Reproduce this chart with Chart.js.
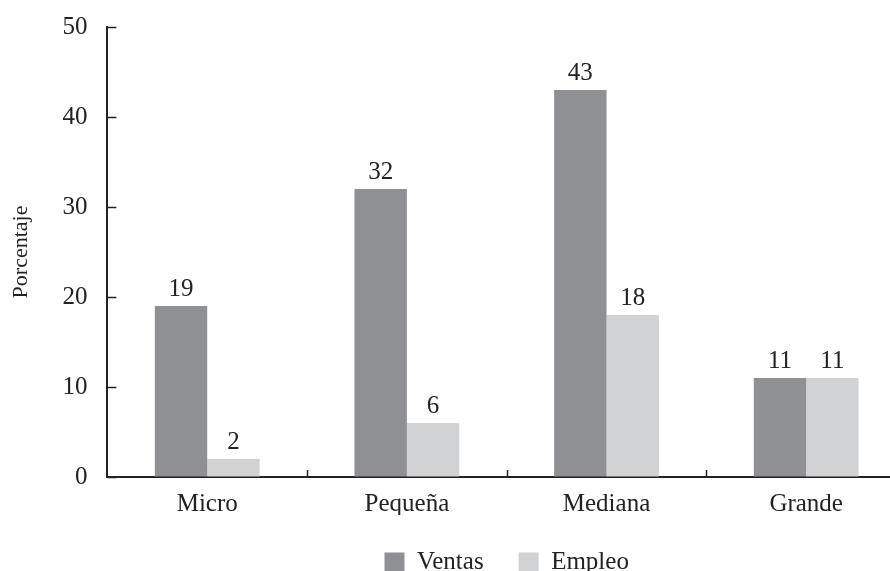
<!DOCTYPE html>
<html>
<head>
<meta charset="utf-8">
<script src="https://cdn.jsdelivr.net/npm/chart.js@4/dist/chart.umd.min.js"></script>
<style>
  html, body { margin: 0; padding: 0; background: #fff; overflow: hidden; }
  #wrap { position: relative; width: 906px; height: 585px; }
</style>
</head>
<body>
<div id="wrap"><canvas id="chart"></canvas></div>
<script>
const categories = ['Micro', 'Pequeña', 'Mediana', 'Grande'];
const ventas = [19, 32, 43, 11];
const empleo = [2, 6, 18, 11];
const yTicks = [0, 10, 20, 30, 40, 50];

const serif = "'Liberation Serif', 'Times New Roman', serif";
const ink = '#222';

// inward tick marks on both axes
const innerTicks = {
  id: 'innerTicks',
  afterDraw(chart) {
    const { ctx, scales: { x, y } } = chart;
    ctx.save();
    ctx.strokeStyle = ink;
    ctx.lineWidth = 1.5;
    yTicks.forEach((v) => {
      const py = Math.round(y.getPixelForValue(v)) + 0.5;
      ctx.beginPath();
      ctx.moveTo(x.left, py);
      ctx.lineTo(x.left + 9, py);
      ctx.stroke();
    });
    const w = (x.right - x.left) / categories.length;
    for (let k = 1; k <= categories.length; k++) {
      const px = Math.round(x.left + k * w) + 0.5;
      ctx.beginPath();
      ctx.moveTo(px, y.bottom);
      ctx.lineTo(px, y.bottom - 7);
      ctx.stroke();
    }
    ctx.restore();
  },
};

// value labels above the bars
const valueLabels = {
  id: 'valueLabels',
  afterDatasetsDraw(chart) {
    const { ctx } = chart;
    ctx.save();
    ctx.font = '25px ' + serif;
    ctx.fillStyle = ink;
    ctx.textAlign = 'center';
    ctx.textBaseline = 'bottom';
    chart.data.datasets.forEach((ds, i) => {
      chart.getDatasetMeta(i).data.forEach((bar, j) => {
        ctx.fillText(String(ds.data[j]), bar.x, bar.y - 4);
      });
    });
    ctx.restore();
  },
};

new Chart(document.getElementById('chart'), {
  type: 'bar',
  data: {
    labels: categories,
    datasets: [
      {
        label: 'Ventas',
        data: ventas,
        backgroundColor: '#8f9094',
        borderWidth: 0,
      },
      {
        label: 'Empleo',
        data: empleo,
        backgroundColor: '#d1d2d4',
        borderWidth: 0,
      },
    ],
  },
  options: {
    responsive: true,
    maintainAspectRatio: false,
    animation: false,
    events: [],
    layout: {
      padding: { left: 8, top: 27, right: 0, bottom: 0 },
    },
    datasets: {
      bar: {
        categoryPercentage: 0.525,
        barPercentage: 1,
      },
    },
    plugins: {
      tooltip: { enabled: false },
      legend: {
        position: 'bottom',
        fullSize: false,
        labels: {
          boxWidth: 20,
          boxHeight: 20,
          padding: 35,
          color: ink,
          font: { family: serif, size: 25 },
        },
      },
    },
    scales: {
      x: {
        grid: { display: true, drawOnChartArea: false, drawTicks: false },
        border: { display: true, color: ink, width: 2 },
        ticks: {
          color: ink,
          padding: 12,
          font: { family: serif, size: 25 },
        },
        afterFit(scale) {
          scale.height -= 16;
        },
      },
      y: {
        min: 0,
        max: 50,
        grid: { display: true, drawOnChartArea: false, drawTicks: false },
        border: { display: true, color: ink, width: 2 },
        ticks: {
          stepSize: 10,
          color: ink,
          padding: 20,
          font: { family: serif, size: 25 },
        },
        title: {
          display: true,
          text: 'Porcentaje',
          color: ink,
          padding: { top: 0, bottom: 8 },
          font: { family: serif, size: 22 },
        },
        afterFit(scale) {
          scale.paddingTop = 0;
        },
      },
    },
  },
  plugins: [innerTicks, valueLabels],
});
</script>
</body>
</html>
